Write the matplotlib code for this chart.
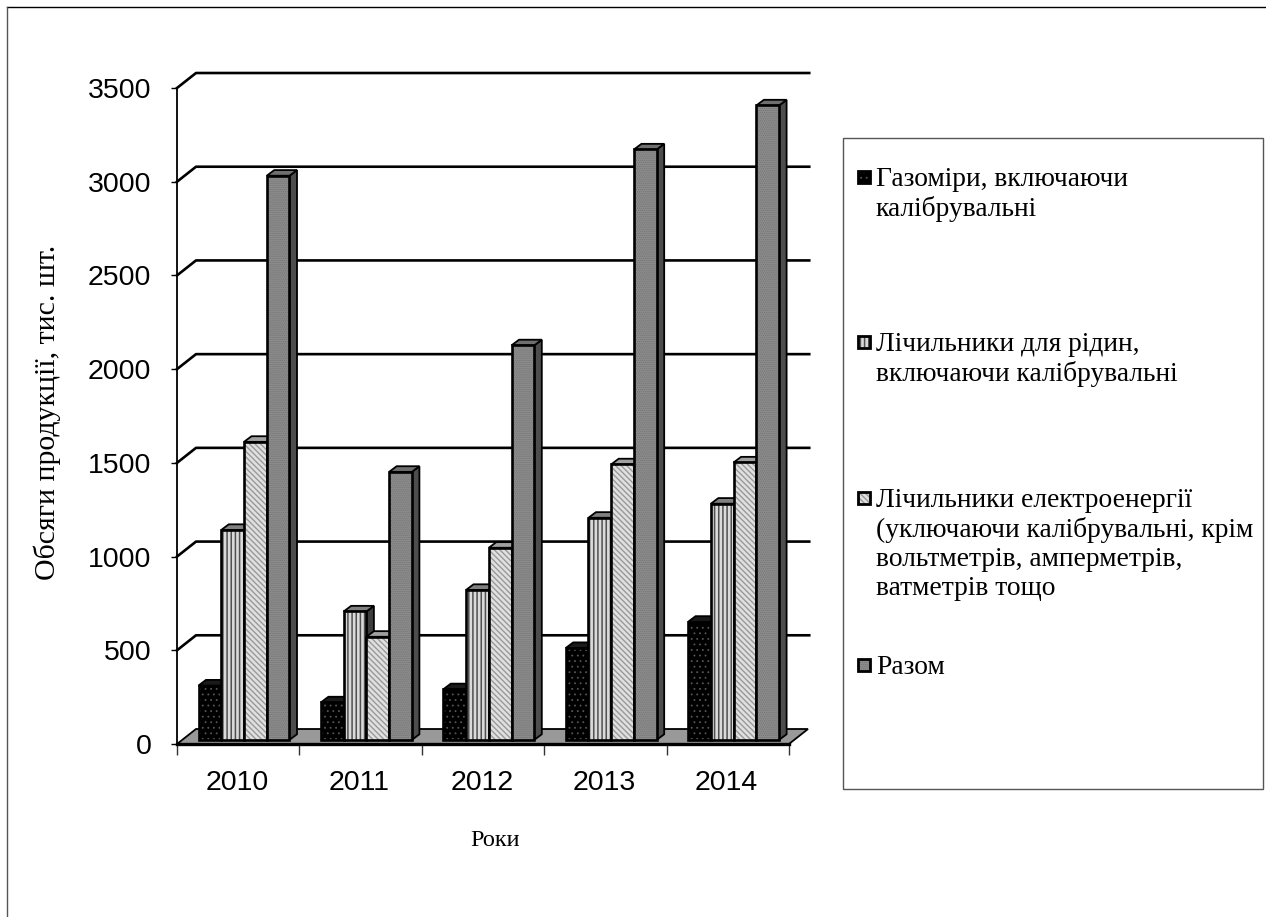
import matplotlib
matplotlib.use("Agg")
import matplotlib.pyplot as plt
from matplotlib.patches import Polygon, Rectangle
from matplotlib.lines import Line2D

years = ["2010", "2011", "2012", "2013", "2014"]
gas = [290, 200, 270, 490, 630]
liquid = [1120, 685, 800, 1185, 1260]
electric = [1590, 550, 1025, 1470, 1480]
total = [3010, 1430, 2105, 3150, 3385]
series_values = [gas, liquid, electric, total]
series_names = [
    "Газоміри, включаючи\nкалібрувальні",
    "Лічильники для рідин,\nвключаючи калібрувальні",
    "Лічильники електроенергії\n(уключаючи калібрувальні, крім\nвольтметрів, амперметрів,\nватметрів тощо",
    "Разом",
]
y_ticks = [0, 500, 1000, 1500, 2000, 2500, 3000, 3500]

# face colour, hatch colour, hatch, hatch width, side colour, top colour
styles = [
    ("#000000", "#555555", "...", 0.6, "#000000", "#1a1a1a"),
    ("#dadada", "#505050", "||||", 1.1, "#3d3d3d", "#808080"),
    ("#e0e0e0", "#999999", "\\\\\\\\\\\\", 1.0, "#505050", "#a0a0a0"),
    ("#8c8c8c", "#747474", "........", 0.6, "#4d4d4d", "#6f6f6f"),
]

W, H = 1266, 917
fig = plt.figure(figsize=(W / 100, H / 100), dpi=100, facecolor="white")


def px_box(left, top, right, bottom):
    return [left / W, 1 - bottom / H, (right - left) / W, (bottom - top) / H]


ax = fig.add_axes(px_box(177, 88, 789, 744))
ax.set_xlim(0, len(years))
ax.set_ylim(0, 3500)
ax.patch.set_visible(False)
for s in ("top", "right"):
    ax.spines[s].set_visible(False)
ax.spines["left"].set_linewidth(1.3)
ax.spines["bottom"].set_linewidth(2.4)

# Depth of the pseudo-3D box, in data units
wall_dx, wall_dy = 19 / 122.4, 80
bar_dx, bar_dy = 7.5 / 122.4, 30
bar_w = 22.75 / 122.4
bar_start = 21.5 / 122.4
lift = 22

# Floor
ax.add_patch(Polygon([(0, 0), (5, 0), (5 + wall_dx, wall_dy), (wall_dx, wall_dy)],
                     closed=True, fc="#999999", ec="black", lw=1.3,
                     clip_on=False, zorder=1))

# Gridlines run along the back wall and step down the side wall
for v in y_ticks[1:]:
    ax.add_line(Line2D([0, wall_dx, 5 + wall_dx + 0.01], [v, v + wall_dy, v + wall_dy],
                       color="black", lw=1.9, clip_on=False, zorder=1.5))

# Bars, left to right, so that each one covers its neighbour's side face
z = 2
for i in range(len(years)):
    for j, values in enumerate(series_values):
        fc, hc, hatch, hatch_lw, side, topc = styles[j]
        x0 = i + bar_start + j * bar_w
        x1 = x0 + bar_w
        y1 = values[i] + lift
        ax.add_patch(Polygon([(x1, lift), (x1 + bar_dx, lift + bar_dy),
                              (x1 + bar_dx, y1 + bar_dy), (x1, y1)],
                             closed=True, fc=side, ec="black", lw=1.3,
                             clip_on=False, zorder=z))
        ax.add_patch(Polygon([(x0, y1), (x1, y1), (x1 + bar_dx, y1 + bar_dy),
                              (x0 + bar_dx, y1 + bar_dy)],
                             closed=True, fc=topc, ec="black", lw=1.3,
                             clip_on=False, zorder=z))
        plt.rcParams["hatch.linewidth"] = hatch_lw
        ax.bar(x0, values[i], bar_w, bottom=lift, align="edge", color=fc,
               edgecolor=hc, hatch=hatch, linewidth=0, clip_on=False, zorder=z + 0.1)
        ax.bar(x0, values[i], bar_w, bottom=lift, align="edge", fill=False,
               edgecolor="black", linewidth=1.9, clip_on=False, zorder=z + 0.2)
        z += 1

ax.set_yticks(y_ticks)
ax.set_xticks(range(len(years) + 1))
ax.set_xticklabels([])
ax.tick_params(axis="y", length=4, width=1.0, labelsize=20.5, pad=14.5)
ax.tick_params(axis="x", length=8, width=1.0, color="#333333")
for label in ax.get_yticklabels():
    label.set_fontfamily("Liberation Sans")
for i, year in enumerate(years):
    ax.text(i + 0.49, -0.059, year, transform=ax.get_xaxis_transform(), ha="center",
            va="center", fontsize=20.5, family="Liberation Sans")

# Overlay in pixel coordinates for the titles, the legend and the frame
ov = fig.add_axes([0, 0, 1, 1], zorder=20)
ov.set_xlim(0, W)
ov.set_ylim(H, 0)
ov.axis("off")
ov.patch.set_visible(False)

ov.add_line(Line2D([6.5, W], [6.5, 6.5], color="black", lw=1.0))
ov.add_line(Line2D([6.5, 6.5], [6.5, H], color="#555555", lw=1.0))

ov.text(47, 412, "Обсяги продукції, тис. шт.", rotation=90, ha="center", va="center",
        family="Liberation Serif", fontsize=21.5)
ov.text(495, 841, "Роки", ha="center", va="center", family="Liberation Serif", fontsize=17.5)

ov.add_patch(Rectangle((843, 138), 420, 651, fc="white", ec="#555555", lw=1.0))
legend_centers = [177, 342, 498, 665]
for (fc, hc, hatch, hatch_lw, _, _), name, cy in zip(styles, series_names, legend_centers):
    plt.rcParams["hatch.linewidth"] = hatch_lw
    ov.add_patch(Rectangle((858, cy - 6), 12, 12, fc=fc, ec=hc, hatch=hatch, lw=0))
    ov.add_patch(Rectangle((858, cy - 6), 12, 12, fill=False, ec="black", lw=2.0))
    ov.text(876, cy - 10, name, ha="left", va="top", family="Liberation Serif",
            fontsize=19.8, linespacing=1.2)

fig.savefig("out.png", dpi=100, facecolor="white")
